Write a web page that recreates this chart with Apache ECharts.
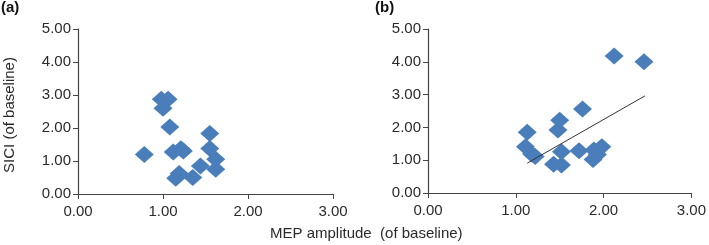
<!DOCTYPE html>
<html>
<head>
<meta charset="utf-8">
<script src="https://cdn.jsdelivr.net/npm/echarts@6/dist/echarts.min.js"></script>
<style>
  html, body { margin: 0; padding: 0; background: #fff; }
  #chart { width: 709px; height: 245px; }
</style>
</head>
<body>
<div id="chart"></div>
<script>
// panel (a): MEP amplitude vs SICI
const pointsA = [
  [0.78, 1.20], [0.98, 2.87], [1.06, 2.87], [1.00, 2.60], [1.08, 2.03],
  [1.12, 1.27], [1.21, 1.37], [1.24, 1.30], [1.15, 0.48], [1.19, 0.62],
  [1.35, 0.50], [1.44, 0.85], [1.55, 1.83], [1.55, 1.38], [1.62, 1.05],
  [1.62, 0.75]
];
// panel (b)
const pointsB = [
  [1.13, 1.85], [1.11, 1.41], [1.18, 1.19], [1.22, 1.11], [1.50, 2.22],
  [1.48, 1.92], [1.52, 1.26], [1.43, 0.88], [1.52, 0.85], [1.72, 1.29],
  [1.76, 2.56], [1.89, 1.31], [1.88, 1.02], [1.98, 1.41], [1.93, 1.17],
  [2.12, 4.18], [2.46, 4.00]
];
const trendB = [[1.13, 0.91], [2.47, 2.96]];
const xTicks = [0, 3, 1];   // min, max, interval
const yTicks = [0, 5, 1];

const font = 'Liberation Sans, Arial, sans-serif';
const axisColor = '#444';

function xAxis(grid) {
  return {
    type: 'value', gridIndex: grid, min: xTicks[0], max: xTicks[1], interval: xTicks[2],
    axisLine: { lineStyle: { color: axisColor, width: 1.2 } },
    axisTick: { show: true, length: 5, lineStyle: { color: axisColor } },
    axisLabel: { color: '#2a2a2a', fontSize: 15, fontFamily: font, margin: 10,
      formatter: v => v.toFixed(2) },
    splitLine: { show: false }
  };
}
function yAxis(grid) {
  return {
    type: 'value', gridIndex: grid, min: yTicks[0], max: yTicks[1], interval: yTicks[2],
    axisLine: { show: true, lineStyle: { color: axisColor, width: 1.2 } },
    axisTick: { show: true, length: 5, lineStyle: { color: axisColor } },
    axisLabel: { color: '#2a2a2a', fontSize: 15, fontFamily: font, margin: 7,
      formatter: v => v.toFixed(2) },
    splitLine: { show: false }
  };
}

const chart = echarts.init(document.getElementById('chart'), null, { renderer: 'canvas' });
const dot = { type: 'scatter', symbol: 'diamond', symbolSize: [19, 17],
  itemStyle: { color: '#4a7ebb', opacity: 1 } };

chart.setOption({
  animation: false,
  grid: [
    { left: 78, right: 376, top: 29, bottom: 51 },
    { left: 428, right: 15, top: 29, bottom: 52 }
  ],
  xAxis: [xAxis(0), xAxis(1)],
  yAxis: [yAxis(0), yAxis(1)],
  graphic: [
    { type: 'text', left: 1, top: 0, style: { text: '(a)', font: 'bold 15px ' + font, fill: '#111' } },
    { type: 'text', left: 375, top: 0, style: { text: '(b)', font: 'bold 15px ' + font, fill: '#111' } },
    { type: 'text', left: 270, top: 226, style: { text: 'MEP amplitude  (of baseline)', font: '15px ' + font, fill: '#2a2a2a' } },
    { type: 'text', x: 10, y: 115, rotation: Math.PI / 2,
      style: { text: 'SICI (of baseline)', font: '15px ' + font, fill: '#2a2a2a', align: 'center', verticalAlign: 'middle' } }
  ],
  series: [
    Object.assign({}, dot, { xAxisIndex: 0, yAxisIndex: 0, data: pointsA }),
    Object.assign({}, dot, { xAxisIndex: 1, yAxisIndex: 1, data: pointsB }),
    { type: 'line', xAxisIndex: 1, yAxisIndex: 1, data: trendB, symbol: 'none', z: 3,
      lineStyle: { color: '#333', width: 1 } }
  ]
});
</script>
</body>
</html>
